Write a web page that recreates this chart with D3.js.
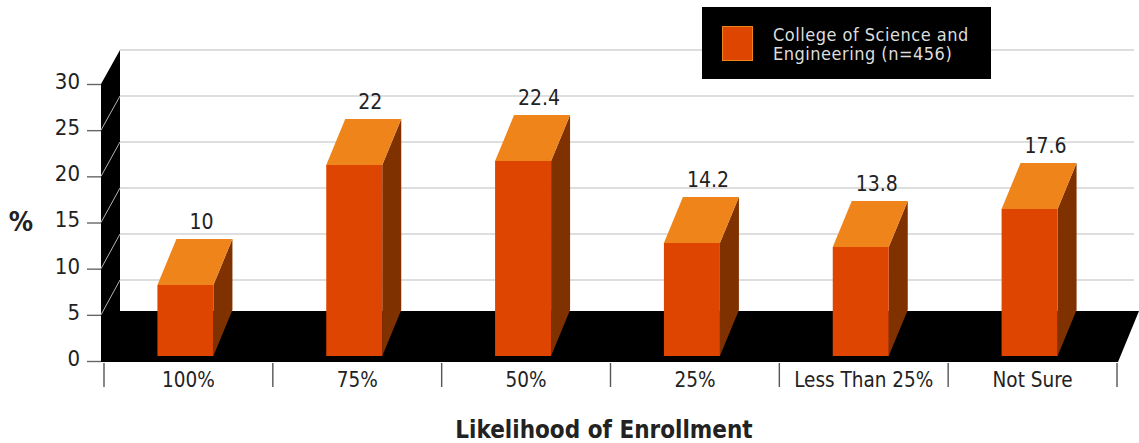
<!DOCTYPE html>
<html>
<head>
<meta charset="utf-8">
<script src="https://cdn.jsdelivr.net/npm/d3@7"></script>
<style>
  html, body { margin: 0; padding: 0; background: #fff; }
  svg { display: block; }
  text { font-family: "DejaVu Sans Condensed", "DejaVu Sans", sans-serif; font-stretch: condensed; fill: #222; }
</style>
</head>
<body>
<svg id="chart" width="1139" height="443"></svg>
<script>
let categories = ["100%", "75%", "50%", "25%", "Less Than 25%", "Not Sure"];
let values = [10, 22, 22.4, 14.2, 13.8, 17.6];
let valueLabels = ["10", "22", "22.4", "14.2", "13.8", "17.6"];
let yTicks = [0, 5, 10, 15, 20, 25, 30];
let gridTicks = [5, 10, 15, 20, 25, 30];
let legendLines = ["College of Science and", "Engineering (n=456)"];

let svg = d3.select("#chart");

// depth of the fake 3d: back wall and bar tops are shifted by these
let wallDx = 19, barDx = 19, barDy = 46;
let floorFront = 362, floorBack = 311, floorRight = 1118;
let barBase = 356, barWidth = 56, barShift = -3;

let x = d3.scaleBand().domain(categories).range([104, 1117]);
let yFront = d3.scaleLinear().domain([0, 30]).range([361, 84]);
let yBack = d3.scaleLinear().domain([0, 30]).range([326, 50]);
// bars stand further in than the axis, so they get their own scale
let yBar = d3.scaleLinear().domain([0, 30]).range([385, 85]);

let line = d3.line();

// back wall grid
svg.append("g").selectAll("line").data(gridTicks).enter().append("line")
    .attr("x1", 120)
    .attr("x2", 1134)
    .attr("y1", d => yBack(d))
    .attr("y2", d => yBack(d))
    .attr("stroke", d => d == 30 ? "#d2d2d2" : "#dedede")
    .attr("stroke-width", d => d == 30 ? 1.4 : 1.8);

// left wall and floor as one shape
svg.append("path")
    .attr("d", line([
        [101, yFront(30)], [101 + wallDx, yBack(30)], [101 + wallDx, floorBack],
        [1139, floorBack], [floorRight, floorFront], [101, floorFront]
    ]) + "Z")
    .attr("fill", "#000");

// diagonals on the wall, running from the axis ticks to the grid
svg.append("g").selectAll("line").data(gridTicks.slice(0, 5)).enter().append("line")
    .attr("x1", 101)
    .attr("x2", 101 + wallDx)
    .attr("y1", d => yFront(d))
    .attr("y2", d => yBack(d))
    .attr("stroke", "#b5b5b5")
    .attr("stroke-width", 1);

// y axis
let yAxis = d3.axisLeft(yFront).tickValues(yTicks).tickSize(14).tickPadding(7);
let yAxisG = svg.append("g").attr("transform", "translate(101,0)").call(yAxis);
yAxisG.select(".domain").remove();
yAxisG.selectAll("line").attr("stroke", "#666").attr("stroke-width", 1.4);
yAxisG.selectAll("text")
    .style("font-size", "22px")
    .attr("dy", "0.2em");

// x axis, labels from the band scale and separators on the band edges
let xAxis = d3.axisBottom(x).tickSize(0).tickPadding(10);
let xAxisG = svg.append("g").attr("transform", "translate(0," + floorFront + ")").call(xAxis);
xAxisG.select(".domain").remove();
xAxisG.selectAll("text").style("font-size", "20.5px");

let edges = categories.map(d => x(d)).concat([x.range()[1]]);
svg.append("g").selectAll("line").data(edges).enter().append("line")
    .attr("x1", d => d)
    .attr("x2", d => d)
    .attr("y1", floorFront + 1)
    .attr("y2", 387)
    .attr("stroke", "#555")
    .attr("stroke-width", 1.4);

// bars
let bars = svg.append("g").selectAll("g")
    .data(values.map((v, i) => ({ cat: categories[i], value: v, label: valueLabels[i] })))
    .enter().append("g");

function barLeft(d) { return x(d.cat) + x.bandwidth() / 2 - barWidth / 2 + barShift; }

// side
bars.append("path")
    .attr("d", d => {
        let r = barLeft(d) + barWidth, t = yBar(d.value);
        return line([[r, t], [r + barDx, t - barDy], [r + barDx, barBase - barDy], [r, barBase]]) + "Z";
    })
    .attr("fill", "#7f3200");

// top
bars.append("path")
    .attr("d", d => {
        let l = barLeft(d), t = yBar(d.value);
        return line([[l, t], [l + barDx, t - barDy], [l + barWidth + barDx, t - barDy], [l + barWidth, t]]) + "Z";
    })
    .attr("fill", "#ef841a");

// front
bars.append("rect")
    .attr("x", d => barLeft(d))
    .attr("y", d => yBar(d.value))
    .attr("width", barWidth)
    .attr("height", d => barBase - yBar(d.value))
    .attr("fill", "#de4500");

// value labels
bars.append("text")
    .attr("x", d => barLeft(d) + barWidth / 2 + 16)
    .attr("y", d => yBar(d.value) - barDy - 10)
    .attr("text-anchor", "middle")
    .style("font-size", "21px")
    .text(d => d.label);

// axis titles
svg.append("text")
    .attr("x", 21)
    .attr("y", 231)
    .attr("text-anchor", "middle")
    .style("font-size", "27px")
    .style("font-weight", "bold")
    .text("%");

svg.append("text")
    .attr("x", 604)
    .attr("y", 438)
    .attr("text-anchor", "middle")
    .style("font-size", "24px")
    .style("font-weight", "bold")
    .text("Likelihood of Enrollment");

// legend
let legend = svg.append("g");
legend.append("rect")
    .attr("x", 702).attr("y", 7).attr("width", 289).attr("height", 72)
    .attr("fill", "#000");
legend.append("rect")
    .attr("x", 722.5).attr("y", 26.5).attr("width", 30).attr("height", 34)
    .attr("fill", "#de4500")
    .attr("stroke", "#ef841a");
legend.selectAll("text").data(legendLines).enter().append("text")
    .attr("x", 773)
    .attr("y", (d, i) => 41 + i * 19)
    .style("font-size", "18px")
    .style("letter-spacing", "0.5px")
    .style("fill", "#ddd")
    .text(d => d);
</script>
</body>
</html>
